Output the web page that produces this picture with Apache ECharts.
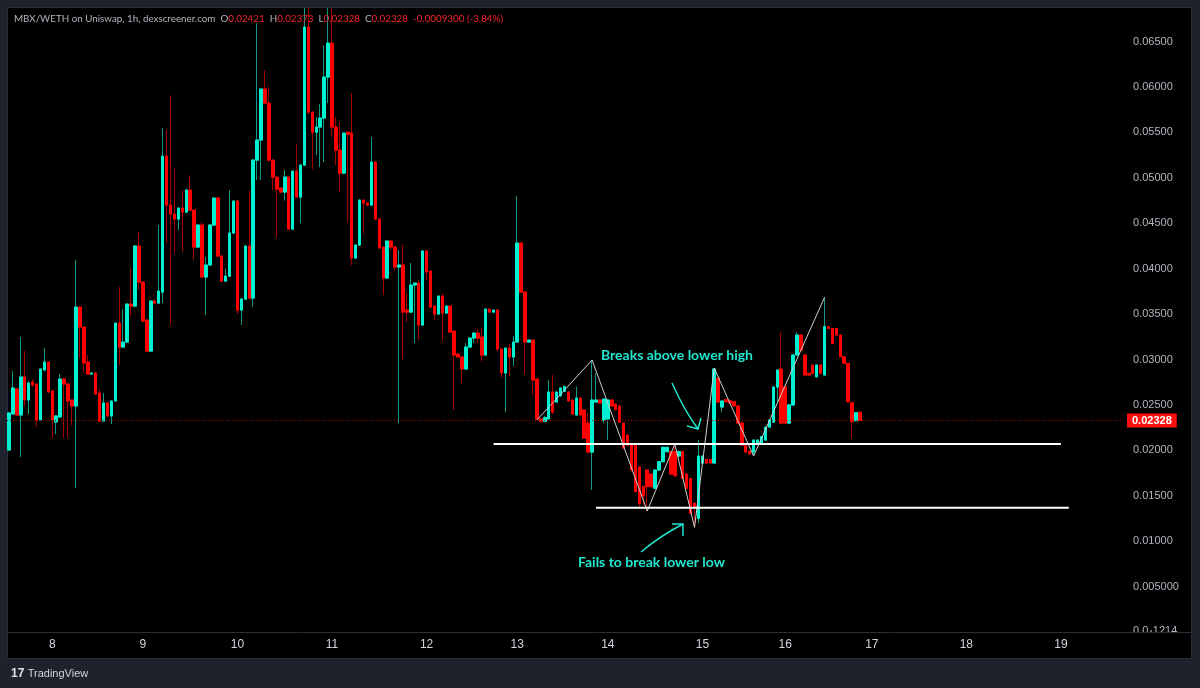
<!DOCTYPE html>
<html><head><meta charset="utf-8">
<script src="https://cdn.jsdelivr.net/npm/echarts@6/dist/echarts.min.js"></script>
<style>html,body{margin:0;padding:0;background:#1e222d;}#c{width:1200px;height:688px;}</style>
</head><body><div id="c"></div>
<script>
// ---- data ----
const opens = [0.02003,0.02400,0.02675,0.02389,0.02807,0.02554,0.02752,0.02730,0.02334,0.02884,0.02972,0.02653,0.02312,0.02367,0.02785,0.02730,0.02554,0.02488,0.03577,0.03357,0.02972,0.02840,0.02851,0.02631,0.02322,0.02521,0.02378,0.02543,0.03401,0.03137,0.03192,0.03610,0.03588,0.04249,0.03852,0.03434,0.03093,0.03643,0.03621,
0.03742,0.05239,0.04700,0.04601,0.04546,0.04667,0.04623,0.04865,0.04645,0.04238,0.04480,0.03908,0.04040,0.04480,0.04777,0.04139,0.03863,0.03918,0.04392,0.04744,0.03544,0.03665,0.04249,0.03676,0.05195,0.05416,0.05977,0.05823,0.05195,0.05008,0.04887,0.04843,0.05008,0.04436,0.05074,0.04788,
0.05140,0.06659,0.05724,0.05503,0.05559,0.05658,0.06109,0.06483,0.05559,0.05305,0.05052,0.05503,0.05493,0.04117,0.04260,0.04755,0.04722,0.04700,0.05173,0.04546,0.04238,0.03897,
0.04304,0.04238,0.04018,0.04040,0.03544,0.03522,0.03820,0.03841,0.03379,0.04194,0.03974,0.03588,0.03500,0.03698,0.03511,0.03588,0.03313,0.03060,0.03027,0.02895,0.03137,0.03236,0.03291,0.03247,0.03049,0.03555,0.03522,0.03544,0.03115,0.02851,0.03126,0.03027,0.03192,0.04282,0.03742,0.03192,0.03214,0.02785,0.02345,0.02320,0.02345,
0.02642,0.02532,0.02600,0.02650,0.02642,0.02554,0.02389,0.02576,0.02444,0.02300,0.01981,0.02532,0.02554,0.02334,0.02345,0.02554,0.02510,0.02488,0.02300,0.02168,0.02058,0.02058,0.01816,0.01600,0.01783,0.01739,0.01582,0.01783,0.01875,0.01985,0.01985,0.01985,0.01937,0.01985,0.01740,0.01691,0.01417,0.01251,
0.01860,0.01900,0.01900,0.01860,0.02796,0.02477,0.02560,0.02545,0.02535,0.02488,0.02300,0.02058,0.01990,0.01981,0.02080,0.02080,0.02113,0.02256,0.02311,0.02697,0.02895,0.02697,0.02300,0.02499,0.03049,0.03269,0.03049,0.02847,0.02939,0.02810,0.02939,0.02829,0.03361,0.03342,0.03342,0.03269,0.03030,0.02958,0.02524,0.02326,0.02421];
const closes = [0.02411,0.02686,0.02389,0.02807,0.02554,0.02741,0.02719,0.02334,0.02895,0.02972,0.02642,0.02334,0.02378,0.02785,0.02730,0.02543,0.02488,0.03577,0.03357,0.02961,0.02840,0.02851,0.02620,0.02322,0.02521,0.02378,0.02543,0.03401,0.03137,0.03192,0.03610,0.03588,0.04249,0.03852,0.03423,0.03093,0.03643,0.03621,0.03753,
0.05239,0.04700,0.04601,0.04546,0.04667,0.04623,0.04865,0.04645,0.04238,0.04480,0.03908,0.04040,0.04480,0.04777,0.04139,0.03863,0.03918,0.04392,0.04744,0.03544,0.03665,0.04249,0.03676,0.05195,0.05416,0.05977,0.05823,0.05195,0.05008,0.04876,0.04843,0.05008,0.04436,0.05074,0.04788,0.05140,
0.06659,0.05724,0.05503,0.05559,0.05658,0.06109,0.06483,0.05559,0.05305,0.05052,0.05493,0.05481,0.04117,0.04260,0.04755,0.04722,0.04700,0.05173,0.04546,0.04227,0.03897,0.04304,
0.04238,0.04018,0.04040,0.03522,0.03522,0.03820,0.03841,0.03379,0.04194,0.03963,0.03577,0.03500,0.03698,0.03511,0.03588,0.03302,0.03049,0.03027,0.02895,0.03137,0.03236,0.03291,0.03236,0.03049,0.03555,0.03522,0.03544,0.03115,0.02851,0.03126,0.03027,0.03192,0.04282,0.03742,0.03192,0.03214,0.02774,0.02345,0.02320,0.02360,0.02642,
0.02422,0.02642,0.02686,0.02700,0.02543,0.02400,0.02576,0.02389,0.02135,0.01981,0.02554,0.02554,0.02521,0.02565,0.02554,0.02488,0.02450,0.02311,0.02025,0.02058,0.01783,0.01545,0.01417,0.01500,0.01600,0.01600,0.01783,0.01875,0.02033,0.02033,0.01739,0.01720,0.01985,0.01691,0.01582,0.01306,0.01380,0.01937,
0.01937,0.01860,0.01860,0.02895,0.02532,0.02543,0.02535,0.02520,0.02490,0.02300,0.02058,0.01981,0.01960,0.02113,0.02113,0.02150,0.02256,0.02334,0.02697,0.02884,0.02300,0.02300,0.02500,0.03049,0.03269,0.03100,0.02829,0.02829,0.02847,0.02939,0.02847,0.03361,0.03342,0.03178,0.03269,0.03030,0.02958,0.02535,0.02315,0.02414,0.02328];
const lows = [0.02003,0.02400,0.02380,0.01926,0.02488,0.02400,0.02700,0.02256,0.02320,0.02870,0.02630,0.02135,0.02179,0.02360,0.02135,0.02146,0.02278,0.01585,0.03016,0.02851,0.02830,0.02835,0.02610,0.02310,0.02311,0.02370,0.02290,0.02540,0.02939,0.03130,0.03180,0.03467,0.03580,0.03764,0.03410,0.03080,0.03085,0.03610,0.03610,
0.03621,0.04282,0.03379,0.04172,0.04425,0.04183,0.04610,0.04630,0.04095,0.04230,0.03900,0.03489,0.04030,0.04470,0.04130,0.03850,0.03855,0.03910,0.04385,0.03500,0.03379,0.03660,0.03660,0.03580,0.04975,0.04975,0.05810,0.05180,0.04865,0.04348,0.04835,0.04750,0.04425,0.04430,0.04780,0.04500,
0.05130,0.05700,0.05096,0.05250,0.05118,0.05173,0.05823,0.05449,0.05140,0.04843,0.05040,0.04502,0.04040,0.04110,0.04250,0.04392,0.04690,0.04690,0.04540,0.04220,0.03709,0.03890,
0.04205,0.03985,0.02300,0.03005,0.03412,0.03510,0.03181,0.03214,0.03370,0.03875,0.03570,0.03434,0.03495,0.03203,0.03505,0.03295,0.02444,0.03020,0.02741,0.02890,0.03130,0.03180,0.03180,0.02983,0.03040,0.03515,0.03515,0.03090,0.02800,0.02422,0.02810,0.02930,0.03185,0.03735,0.02840,0.03185,0.02609,0.02340,0.02310,0.02315,0.02340,
0.02400,0.02525,0.02590,0.02640,0.02535,0.02390,0.02380,0.02380,0.02125,0.01970,0.01563,0.02520,0.02515,0.02300,0.02113,0.02480,0.02440,0.02300,0.02015,0.02050,0.01775,0.01535,0.01380,0.01400,0.01332,0.01590,0.01575,0.01775,0.01870,0.01980,0.01730,0.01710,0.01930,0.01685,0.01575,0.01300,0.01152,0.01200,
0.01855,0.01855,0.01855,0.01855,0.02525,0.02420,0.02530,0.02515,0.02485,0.02295,0.02050,0.01975,0.01955,0.01937,0.02075,0.02075,0.02110,0.02250,0.02305,0.02530,0.02295,0.02295,0.02295,0.02495,0.03045,0.03095,0.02825,0.02825,0.02840,0.02800,0.02840,0.02825,0.03335,0.03170,0.03260,0.03025,0.02950,0.02530,0.02132,0.02320,0.02325];
const highs = [0.02420,0.02873,0.02690,0.03247,0.03093,0.02760,0.02785,0.02740,0.02900,0.03126,0.02980,0.02660,0.02390,0.02840,0.02800,0.02740,0.02560,0.04095,0.03580,0.03360,0.03049,0.02860,0.02860,0.02675,0.02631,0.02530,0.02550,0.03410,0.03797,0.03555,0.03620,0.04007,0.04260,0.04403,0.03860,0.03440,0.03650,0.03660,0.04480,
0.05547,0.05525,0.05911,0.05107,0.04680,0.04865,0.04880,0.05030,0.04650,0.04490,0.04513,0.04128,0.04490,0.04790,0.04790,0.04150,0.04000,0.04865,0.04755,0.04755,0.03680,0.04260,0.04865,0.05210,0.06703,0.05990,0.06186,0.05999,0.05200,0.05010,0.04895,0.05085,0.05015,0.05080,0.05371,0.05150,
0.06870,0.06870,0.05730,0.05669,0.05812,0.06461,0.06870,0.06870,0.05669,0.05614,0.05500,0.05510,0.05933,0.04270,0.04760,0.04760,0.04730,0.05449,0.05180,0.04560,0.04240,0.04310,
0.04310,0.04240,0.04205,0.04260,0.03731,0.04062,0.03850,0.03870,0.04200,0.04200,0.03980,0.03595,0.03705,0.03720,0.03595,0.03595,0.03320,0.03065,0.03035,0.03180,0.03240,0.03300,0.03340,0.03340,0.03560,0.03560,0.03550,0.03550,0.03120,0.03130,0.03170,0.03260,0.04799,0.04290,0.03750,0.03220,0.03220,0.02790,0.02355,0.02380,0.02774,
0.02829,0.02650,0.02690,0.02710,0.02650,0.02560,0.02700,0.02580,0.02450,0.02410,0.02994,0.02850,0.02560,0.02570,0.02560,0.02560,0.02515,0.02495,0.02305,0.02175,0.02065,0.02065,0.01820,0.01610,0.01790,0.01745,0.01790,0.01880,0.02040,0.02040,0.01990,0.02069,0.02000,0.01990,0.01745,0.01695,0.01420,0.02113,
0.01940,0.01905,0.01905,0.02906,0.02800,0.02550,0.02565,0.02550,0.02540,0.02495,0.02305,0.02065,0.01995,0.02120,0.02120,0.02155,0.02260,0.02340,0.02700,0.02890,0.03302,0.02700,0.02505,0.03055,0.03300,0.03275,0.03055,0.02850,0.02945,0.02945,0.02945,0.03684,0.03365,0.03345,0.03345,0.03275,0.03035,0.02965,0.02530,0.02420,0.02421];
// hourly bars per day (first entry: day 7 from 13:00), future days included
const dayNames   = ['7','8','9','10','11','12','13','14','15','16','17','18','19'];
const barsPerDay = [11, 23, 24, 24, 24, 23, 23, 24, 21, 22, 24, 24, 16];
const firstHour  = [13, 0, 0, 0, 0, 0, 0, 0, 0, 0, 0, 0, 0];
const yTicks = [0.005,0.01,0.015,0.02,0.025,0.03,0.035,0.04,0.045,0.05,0.055,0.06,0.065];
const lastPrice = 0.02328;
// drawing (annotation) points: [bar index, price]
const zigzag = [[134,0.02334],[148,0.02994],[162,0.01332],[169,0.02069],[174,0.01152],[179,0.02906],[189,0.01937],[207,0.03684]];
const levelHigh = [[123,0.02069],[267,0.02069]];
const levelLow  = [[149,0.01368],[269,0.01368]];

// ---- build ----
const categories = [];
dayNames.forEach((d, k) => {
  for (let h = 0; h < barsPerDay[k]; h++) categories.push(d + '|' + (firstHour[k] + h));
});
const full = opens.map((o, i) => [o, closes[i], lows[i], highs[i]]);
const bodies = opens.map((o, i) => [o, closes[i], Math.min(o, closes[i]), Math.max(o, closes[i])]);

const UP = '#00f0d2', DOWN = '#ff0000', UPW = '#0e9985', DOWNW = '#a40000';
const CYAN = '#1fe6cf';
const chart = echarts.init(document.getElementById('c'), null, {renderer: 'canvas'});
const FONT = 'Liberation Sans';
const HFONT = '9.8px Lato';

chart.setOption({
  backgroundColor: '#1e222d',
  animation: false,
  grid: {left: 7, right: 78, top: 8, bottom: 56, containLabel: false},
  xAxis: {
    type: 'category', data: categories, boundaryGap: true, z: 10,
    axisLine: {show: false}, axisTick: {show: false}, splitLine: {show: false},
    axisLabel: {
      interval: (i, v) => v.split('|')[1] === '0',
      formatter: v => v.split('|')[0],
      color: '#d1d4dc', fontFamily: FONT, fontSize: 12, margin: 7
    }
  },
  yAxis: {
    type: 'value', position: 'right', min: 0, max: 0.0687, interval: 0.005,
    axisLine: {show: false}, axisTick: {show: false}, splitLine: {show: false},
    axisLabel: {
      color: '#b2b5be', fontFamily: FONT, fontSize: 11, align: 'left', margin: 11,
      showMinLabel: false, showMaxLabel: false,
      formatter: v => (yTicks.some(t => Math.abs(t - v) < 1e-9) ? v.toPrecision(4) : '')
    }
  },
  series: [
    {
      type: 'candlestick', data: full, barWidth: 3, z: 2,
      itemStyle: {color: UPW, color0: DOWNW, borderColor: UPW, borderColor0: DOWNW, borderWidth: 1}
    },
    {
      type: 'candlestick', data: bodies, barWidth: 3, z: 3,
      itemStyle: {color: UP, color0: DOWN, borderColor: UP, borderColor0: DOWN, borderWidth: 1}
    },
    {
      type: 'line', data: zigzag, showSymbol: false, z: 5, silent: true,
      lineStyle: {color: '#cfcfcf', width: 1}
    },
    {
      type: 'line', data: levelHigh, showSymbol: false, z: 5, silent: true,
      lineStyle: {color: '#ffffff', width: 2},
      markLine: {
        silent: true, symbol: ['none', 'none'], precision: 5,
        lineStyle: {color: '#b00000', type: [1, 2], width: 1},
        label: {
          show: true, position: 'end', distance: 5, formatter: () => lastPrice.toFixed(5),
          backgroundColor: '#ff1010', color: '#ffffff', fontWeight: 'bold',
          fontFamily: FONT, fontSize: 11, padding: [2, 5, 1, 5]
        },
        data: [{yAxis: lastPrice}]
      }
    },
    {
      type: 'line', data: levelLow, showSymbol: false, z: 5, silent: true,
      lineStyle: {color: '#ffffff', width: 2}
    }
  ],
  graphic: [
    {type: 'rect', z: -10, silent: true, shape: {x: 7.5, y: 7.5, width: 1184, height: 651},
      style: {fill: '#000000', stroke: '#2a2e39', lineWidth: 1}},
    {type: 'text', z: 1, left: 1133, top: 625, silent: true,
      style: {text: '0.0\u20841214', fill: '#b2b5be', font: '11px "Liberation Sans"'}},
    {type: 'rect', z: 2, silent: true, shape: {x: 8, y: 633, width: 1183, height: 25},
      style: {fill: '#000000'}},
    {type: 'line', z: 3, silent: true, shape: {x1: 8, y1: 632.5, x2: 1191, y2: 632.5},
      style: {stroke: '#2a2e39', lineWidth: 1}},
    {type: 'text', z: 20, left: 14, top: 14, silent: true,
      style: {
        text: '{g|MBX/WETH on Uniswap, 1h, dexscreener.com}  {g|O}{r|0.02421}  {g|H}{r|0.02373}  {g|L}{r|0.02328}  {g|C}{r|0.02328}  {r|-0.0009300 (-3.84%)}',
        font: HFONT,
        rich: {g: {fill: '#b2b5be', font: HFONT}, r: {fill: '#f7252e', font: HFONT}}
      }},
    {type: 'text', z: 20, left: 601, top: 348, silent: true,
      style: {text: 'Breaks above lower high', fill: CYAN, font: 'bold 14px Lato'}},
    {type: 'text', z: 20, left: 578, top: 555, silent: true,
      style: {text: 'Fails to break lower low', fill: CYAN, font: 'bold 14px Lato'}},
    {type: 'bezierCurve', z: 20, silent: true,
      shape: {x1: 672, y1: 383, x2: 698, y2: 429, cpx1: 684, cpy1: 410},
      style: {stroke: CYAN, lineWidth: 1.5, fill: null}},
    {type: 'polyline', z: 20, silent: true,
      shape: {points: [[687, 426], [698, 429], [701, 418]]},
      style: {stroke: CYAN, lineWidth: 1.5, fill: null}},
    {type: 'bezierCurve', z: 20, silent: true,
      shape: {x1: 641, y1: 552, x2: 683, y2: 524, cpx1: 660, cpy1: 536},
      style: {stroke: CYAN, lineWidth: 1.5, fill: null}},
    {type: 'polyline', z: 20, silent: true,
      shape: {points: [[672, 524], [683, 524], [683, 536]]},
      style: {stroke: CYAN, lineWidth: 1.5, fill: null}},
    {type: 'text', z: 20, left: 11, top: 668, silent: true,
      style: {text: '{b|17} {t|TradingView}', rich: {
        b: {fill: '#e0e3eb', font: 'bold 12px "Liberation Sans"'},
        t: {fill: '#d1d4dc', font: '11px "Liberation Sans"'}}}}
  ]
});
</script></body></html>
